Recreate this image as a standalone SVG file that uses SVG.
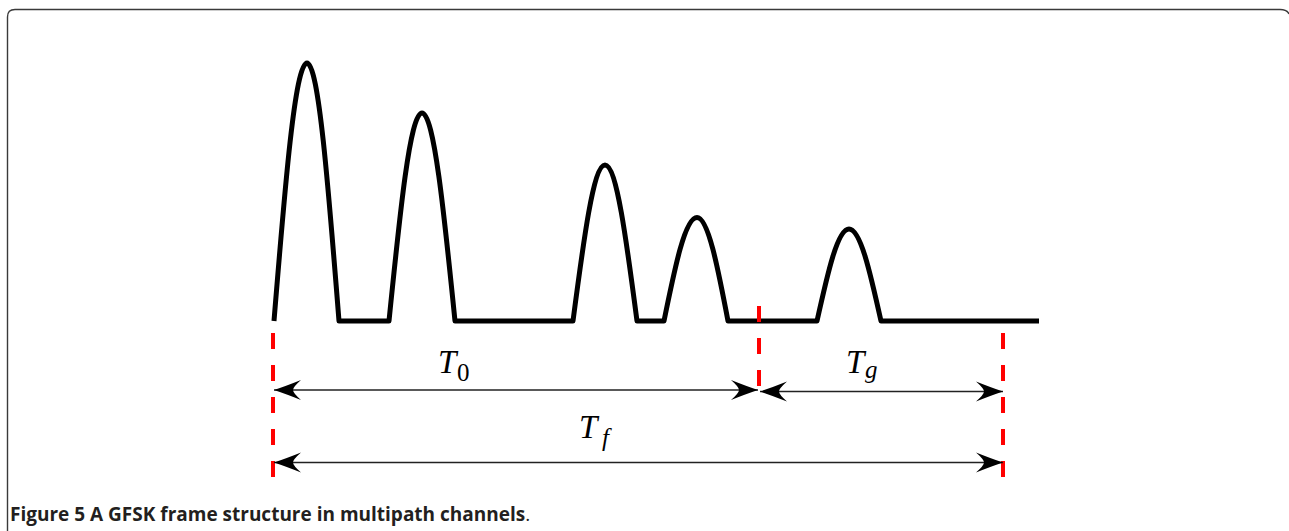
<svg xmlns="http://www.w3.org/2000/svg" width="1289" height="531" viewBox="0 0 1289 531">
  <style>
    .frame { fill: none; stroke: #3a3a3a; stroke-width: 1.4; }
    .wave { fill: none; stroke: #000; stroke-width: 5; stroke-linejoin: round; stroke-linecap: butt; }
    .guide { fill: none; stroke: #ff0000; stroke-width: 4; stroke-dasharray: 16 16; }
    .dim { fill: none; stroke: #222; stroke-width: 1.6; }
    .math { font-family: "Liberation Serif", "DejaVu Serif", serif; font-style: italic; fill: #000; }
    .sub { font-family: "Liberation Serif", "DejaVu Serif", serif; fill: #000; }
    .caption { font-family: "Open Sans", "Liberation Sans", sans-serif; font-size: 19px; fill: #231f20; }
  </style>
  <defs>
    <marker id="head" viewBox="-28 -11 29 22" refX="0" refY="0" markerWidth="29" markerHeight="22" markerUnits="userSpaceOnUse" orient="auto-start-reverse">
      <path d="M0,0 Q-12,-4 -27,-10 Q-19,-3 -19,0 Q-19,3 -27,10 Q-12,4 0,0 Z" fill="#000"/>
    </marker>
  </defs>

  <rect width="1289" height="531" fill="#fff"/>

  <g id="border">
    <path class="frame" d="M7.5,540 L7.5,17 Q7.5,9.5 15,9.5 L1280,9.5 Q1287,9.5 1289,14"/>
  </g>

  <g id="waveform">
    <path class="wave" d="M274,321
      C285,185.9 295.1,63 307,63 C318.5,63 328.3,185.9 339,321
      L389,321
      C400,212.1 410.1,113 422,113 C433.9,113 444,212.1 455,321
      L573,321
      C583.7,239.3 593.5,165 605,165 C616.5,165 626.3,239.3 637,321
      L664,321
      C675,266.8 685.1,217.5 697,217.5 C708.1,217.5 717.7,266.8 728,321
      L817,321
      C827.7,272.8 837.5,229 849,229 C860.5,229 870.3,272.8 881,321
      L1039,321"/>
  </g>

  <g id="guides">
    <line class="guide" x1="273" y1="333" x2="273" y2="478"/>
    <line class="guide" x1="759" y1="306" x2="759" y2="387"/>
    <line class="guide" x1="1003" y1="333" x2="1003" y2="478"/>
  </g>

  <g id="connectors">
    <line id="arrow-T0" class="dim" x1="274" y1="390" x2="758" y2="390" marker-start="url(#head)" marker-end="url(#head)"/>
    <line id="arrow-Tg" class="dim" x1="760" y1="391.5" x2="1003" y2="391.5" marker-start="url(#head)" marker-end="url(#head)"/>
    <line id="arrow-Tf" class="dim" x1="274" y1="462.5" x2="1003" y2="462.5" marker-start="url(#head)" marker-end="url(#head)"/>
  </g>

  <g id="label-T0">
    <text class="math" x="438" y="373" font-size="33">T</text>
    <text class="sub" x="457" y="381" font-size="25">0</text>
  </g>
  <g id="label-Tg">
    <text class="math" x="846" y="373" font-size="33">T</text>
    <text class="math" x="865" y="378" font-size="25">g</text>
  </g>
  <g id="label-Tf">
    <text class="math" x="579" y="438" font-size="33">T</text>
    <text class="math" x="602" y="446" font-size="25">f</text>
  </g>

  <g id="caption">
    <text class="caption" x="10" y="521"><tspan font-weight="700">Figure 5 A GFSK frame structure in multipath channels</tspan><tspan font-weight="400">.</tspan></text>
  </g>
</svg>
